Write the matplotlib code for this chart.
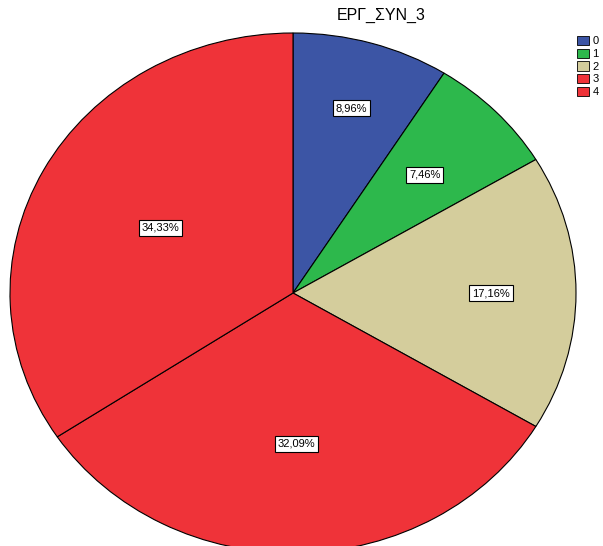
import numpy as np
import matplotlib.pyplot as plt
from matplotlib.patches import Patch

plt.rcParams['font.family'] = ['Liberation Sans', 'DejaVu Sans']

categories = ['0', '1', '2', '3', '4']
percents = [8.96, 7.46, 17.16, 32.09, 34.33]
colors = ['#3c55a5', '#2db84c', '#d4cd9c', '#ef3339', '#ef3339']
label_radius = [0.74, 0.65, 0.70, 0.58, 0.53]

fig = plt.figure(figsize=(6.03, 5.46), dpi=100)
W, H = 603, 546
cx, cy, rx, ry = 293, 293, 283, 260
ax = fig.add_axes([(cx - rx) / W, (H - cy - ry) / H, 2 * rx / W, 2 * ry / H])

wedges, _ = ax.pie(percents, colors=colors, startangle=90, counterclock=False,
                   wedgeprops=dict(edgecolor='black', linewidth=0.8))
ax.set_aspect('auto')
ax.set_xlim(-1, 1)
ax.set_ylim(-1, 1)
ax.axis('off')

# percentage labels in boxes at mid angle of each slice
for w, p, r in zip(wedges, percents, label_radius):
    ang = np.deg2rad((w.theta1 + w.theta2) / 2)
    ax.text(r * np.cos(ang), r * np.sin(ang), ('%.2f%%' % p).replace('.', ','),
            ha='center', va='center', fontsize=8,
            bbox=dict(boxstyle='square,pad=0.25', fc='white', ec='black', lw=0.8))

fig.text(381 / W, 1 - 15 / H, 'ΕΡΓ_ΣΥΝ_3', ha='center', va='center', fontsize=11.5)

handles = [Patch(facecolor=c, edgecolor='black', linewidth=0.6) for c in colors]
fig.legend(handles, categories, loc='upper left', bbox_to_anchor=(577 / W, 1 - 36 / H),
           frameon=False, fontsize=8, handlelength=1.1, handleheight=0.9,
           handletextpad=0.3, labelspacing=0.2, borderpad=0.0, borderaxespad=0.0)

fig.savefig('out.png', dpi=100)
